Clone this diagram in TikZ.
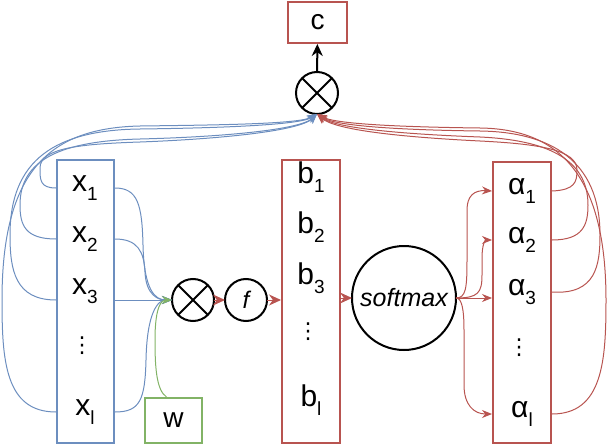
\documentclass[tikz,border=0pt]{standalone}
\usepackage{fontspec}
\setmainfont{Liberation Sans}
\newfontfamily\symfont{DejaVu Sans}
\usetikzlibrary{arrows.meta}
\definecolor{cblue}{HTML}{6C8EBF}
\definecolor{cred}{HTML}{B85450}
\definecolor{cgreen}{HTML}{82B366}
\newcommand{\lbl}[2]{#1\raisebox{-0.3em}{\fontsize{19}{19}\selectfont #2}}
\begin{document}
\begin{tikzpicture}[x=1pt,y=-1pt,
  box/.style={draw, line width=2pt, fill=white, inner sep=0pt, minimum width=57pt},
  lab/.style={font=\fontsize{30}{30}\selectfont, inner sep=0pt},
  vd/.style={font=\fontsize{22}{22}\selectfont\symfont, inner sep=0pt},
  op/.style={circle, draw=black, line width=2pt, minimum size=42pt, inner sep=0pt, outer sep=0pt},
  blconn/.style={draw=cblue, line width=1pt, -{Stealth[length=10pt,width=8pt]}},
  rdconn/.style={draw=cred, line width=1pt, -{Stealth[length=10pt,width=8pt]}},
  rdbig/.style={draw=cred, line width=1pt, -{Stealth[length=12pt,width=11pt]}},
  grconn/.style={draw=cgreen, line width=1pt, -{Stealth[length=10pt,width=8pt]}},
  blkarrow/.style={draw=black, line width=2pt, -{Stealth[length=12pt,width=11pt]}}
]
\useasboundingbox (0,0) rectangle (608,444);
% boxes
\node[box, draw=cblue, minimum height=283pt] (X) at (85.5,301.5) {};
\node[box, draw=cgreen, minimum height=45pt, font=\fontsize{28}{28}\selectfont] (W) at (173.5,420.5) {w};
\node[box, draw=cred, minimum width=58pt, minimum height=283pt] (B) at (311,301.5) {};
\node[box, draw=cred, minimum width=58pt, minimum height=281pt] (A) at (522,302.5) {};
\node[box, draw=cred, minimum width=59pt, minimum height=41pt, font=\fontsize{28}{28}\selectfont] (C) at (317.5,22.5) {c};
% operators
\node[op] (O1) at (193,300) {};
\draw[line width=2pt] (O1.north west) -- (O1.south east) (O1.north east) -- (O1.south west);
\node[op, font=\fontsize{24}{24}\selectfont\itshape] (F) at (246,300) {f};
\node[op, minimum size=104pt, font=\fontsize{25}{25}\selectfont\itshape] (S) at (404,298) {softmax};
\node[op] (O2) at (317,93) {};
\draw[line width=2pt] (O2.north west) -- (O2.south east) (O2.north east) -- (O2.south west);
% labels
\node[lab] (x1) at (85,188) {\lbl{x}{1}};
\node[lab] (x2) at (85,239) {\lbl{x}{2}};
\node[lab] (x3) at (85,291) {\lbl{x}{3}};
\node[vd] (xd) at (82,346) {⋮};
\node[lab] (xl) at (85,412) {\lbl{x}{l}};
\node[lab] (b1) at (311,177) {\lbl{b}{1}};
\node[lab] (b2) at (311,227) {\lbl{b}{2}};
\node[lab] (b3) at (311,278) {\lbl{b}{3}};
\node[vd] (bd) at (308,332) {⋮};
\node[lab] (bl) at (311,400) {\lbl{b}{l}};
\node[lab] (a1) at (522,191) {\lbl{α}{1}};
\node[lab] (a2) at (522,240) {\lbl{α}{2}};
\node[lab] (a3) at (522,292) {\lbl{α}{3}};
\node[vd] (ad) at (519,348) {⋮};
\node[lab] (al) at (522,414) {\lbl{α}{l}};
% blue: x to top operator
\draw[blconn] (X.west |- x1) .. controls (40,188) and (40,180) .. (40,168) .. controls (40,148) and (80,144) .. (140,142) .. controls (220,139) and (300,131) .. (O2.south);
\draw[blconn] (X.west |- x2) .. controls (25,239) and (20,225) .. (20,205) .. controls (20,160) and (60,141) .. (140,139) .. controls (220,137) and (300,130) .. (O2.south);
\draw[blconn] (X.west |- O1) .. controls (15,300) and (10,270) .. (10,235) .. controls (10,160) and (55,130) .. (140,129) .. controls (220,128) and (300,125) .. (O2.south);
\draw[blconn] (X.west |- xl) .. controls (5,412) and (2,360) .. (2,300) .. controls (2,170) and (50,128) .. (140,126) .. controls (220,125) and (300,124) .. (O2.south);
% blue: x to first operator
\draw[blconn] (X.east |- x1) .. controls (138,188) and (142,205) .. (143,245) .. controls (144,290) and (155,300) .. (O1.west);
\draw[blconn] (X.east |- x2) .. controls (138,239) and (144,252) .. (145,272) .. controls (146,295) and (158,300) .. (O1.west);
\draw[blconn] (X.east |- O1) -- (O1.west);
\draw[blconn] (X.east |- xl) .. controls (140,412) and (145,400) .. (146,360) .. controls (147,312) and (158,300) .. (O1.west);
% green
\draw[grconn] ([xshift=-7pt]W.north) .. controls (156,390) and (155,365) .. (155,340) .. controls (155,305) and (162,300) .. (O1.west);
% red: alpha to top operator
\draw[rdconn] (A.east |- a1) .. controls (575,190) and (577,182) .. (577,170) .. controls (577,150) and (540,144) .. (480,141) .. controls (400,137) and (335,130) .. (O2.south);
\draw[rdconn] (A.east |- a2) .. controls (583,240) and (588,225) .. (588,205) .. controls (588,158) and (545,140) .. (480,137) .. controls (400,134) and (335,128) .. (O2.south);
\draw[rdconn] (A.east |- a3) .. controls (596,295) and (600,265) .. (600,235) .. controls (600,160) and (550,132) .. (480,131) .. controls (400,130) and (335,126) .. (O2.south);
\draw[rdconn] (A.east |- al) .. controls (603,414) and (606,360) .. (606,300) .. controls (606,170) and (555,129) .. (480,128) .. controls (400,127) and (335,124) .. (O2.south);
% red: softmax to alpha
\draw[rdconn] (S.east) .. controls (466,298) and (467,288) .. (467,260) -- (467,210) .. controls (467,196) and (474,190) .. (A.west |- a1);
\draw[rdconn] (S.east) .. controls (478,298) and (482,293) .. (482,275) -- (482,258) .. controls (482,245) and (485,240) .. (A.west |- a2);
\draw[rdconn] (S.east) -- (A.west |- S);
\draw[rdconn] (S.east) .. controls (462,298) and (464,310) .. (464,330) -- (464,385) .. controls (464,405) and (474,414) .. (A.west |- al);
% middle chain
\draw[rdbig] (O1) -- (F);
\draw[rdbig] (F) -- (B.west |- F);
\draw[rdbig] (B.east |- S) -- (S);
\draw[blkarrow] (O2) -- (C);
\end{tikzpicture}
\end{document}
